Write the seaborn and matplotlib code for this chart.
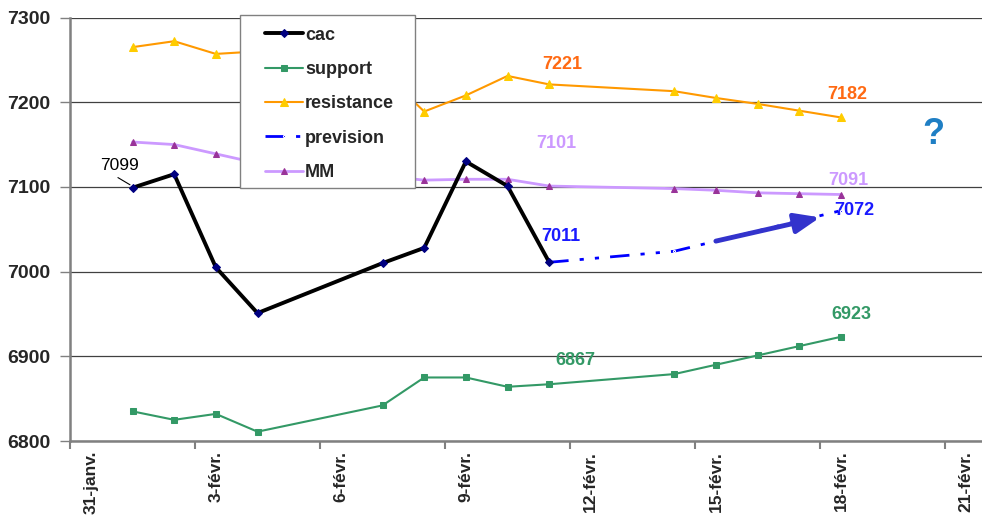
import numpy as np
import pandas as pd
import matplotlib
matplotlib.use('Agg')
import matplotlib.pyplot as plt
import matplotlib.patches as mpatches
import seaborn as sns

# day offsets from 31 janv. (points sit in the middle of each day slot)
days = [1, 2, 3, 4, 7, 8, 9, 10, 11, 14, 15, 16, 17, 18]
cac = [7099, 7115, 7005, 6951, 7010, 7028, 7130, 7101, 7011]
support = [6835, 6825, 6832, 6811, 6842, 6875, 6875, 6864, 6867, 6879, 6890, 6901, 6912, 6923]
resistance = [7265, 7272, 7257, 7260, 7236, 7189, 7208, 7231, 7221, 7213, 7205, 7198, 7190, 7182]
mm = [7153, 7150, 7139, 7128, 7113, 7108, 7109, 7109, 7101, 7098, 7096, 7093, 7092, 7091]
prev_days = [11, 14, 18]
prevision = [7011, 7024, 7072]

tick_days = [0, 3, 6, 9, 12, 15, 18, 21]
tick_labels = ['31-janv.', '3-févr.', '6-févr.', '9-févr.', '12-févr.', '15-févr.', '18-févr.', '21-févr.']

sns.set_style('white')
plt.rcParams['font.family'] = ['Liberation Sans', 'DejaVu Sans']

fig = plt.figure(figsize=(9.82, 5.20), dpi=100)
ax = fig.add_axes([70 / 982, 79 / 520, 1 - 70 / 982, (441 - 17.5) / 520])

x = np.array(days) + 0.5
sns.lineplot(x=x[:len(cac)], y=cac, ax=ax, color='black', lw=2.8, marker='D', ms=4.5,
             mfc='#000080', mec='#000080', label='cac', zorder=5)
sns.lineplot(x=x, y=support, ax=ax, color='#339966', lw=1.5, marker='s', ms=4,
             mfc='#339966', mec='#339966', label='support', zorder=4)
sns.lineplot(x=x, y=resistance, ax=ax, color='#ff9900', lw=1.5, marker='^', ms=6,
             mfc='#ffcc00', mec='#ffcc00', label='resistance', zorder=4)
sns.lineplot(x=np.array(prev_days) + 0.5, y=prevision, ax=ax, color='#0000ff', lw=2,
             linestyle=(0, (7, 4, 1.5, 4, 1.5, 4)), marker='.', ms=3,
             label='prevision', zorder=4)
sns.lineplot(x=x, y=mm, ax=ax, color='#cc99ff', lw=2, marker='^', ms=4,
             mfc='#993399', mec='#993399', label='MM', zorder=4)

ax.annotate('', xy=(18.0, 7064), xytext=(15.5, 7036),
            arrowprops=dict(arrowstyle='-|>,head_length=1.5,head_width=0.6',
                            color='#3333cc', lw=3.5, shrinkA=0, shrinkB=0), zorder=6)

lab = dict(ha='center', va='center', fontsize=13, fontweight='bold')
ax.text(11.81, 7244, '7221', color='#ff6a13', **lab)
ax.text(18.65, 7209, '7182', color='#ff6a13', **lab)
ax.text(11.66, 7151, '7101', color='#cc99ff', **lab)
ax.text(18.67, 7107, '7091', color='#cc99ff', **lab)
ax.text(18.81, 7072, '7072', color='#1a1aff', **lab)
ax.text(11.78, 7042, '7011', color='#1a1aff', **lab)
ax.text(12.14, 6895, '6867', color='#339966', **lab)
ax.text(18.74, 6949, '6923', color='#339966', **lab)
ax.text(20.73, 7162, '?', color='#1f7fc4', ha='center', va='center', fontsize=26, fontweight='bold')
ax.text(1.19, 7125, '7099', color='black', ha='center', va='center', fontsize=12.5)
ax.plot([1.15, 1.44], [7111, 7102.5], color='black', lw=0.8, zorder=6)

ax.set_xlim(0, (982 - 70) / 41.67)
ax.set_ylim(6800, 7300)
ax.set_yticks([6800, 6900, 7000, 7100, 7200, 7300])
ax.tick_params(axis='y', which='major', length=7, width=1, color='#808080', pad=7,
               labelsize=14, left=True)
for t in ax.get_yticklabels():
    t.set_fontweight('bold')
ax.set_xticks(tick_days)
ax.set_xticklabels([])
ax.set_xticks(np.array(tick_days) + 0.5, minor=True)
ax.set_xticklabels(tick_labels, minor=True, rotation=90, fontsize=12.5, fontweight='bold')
ax.tick_params(axis='x', which='major', length=6, width=1.5, color='#808080', bottom=True)
ax.tick_params(axis='x', which='minor', length=0, pad=7)
ax.grid(axis='y', color='#404040', lw=0.9)
ax.grid(axis='x', visible=False)
for s in ['top', 'right']:
    ax.spines[s].set_visible(False)
for s in ['left', 'bottom']:
    ax.spines[s].set_color('#808080')
    ax.spines[s].set_linewidth(1.8)

# legend box drawn separately so the entries can sit with a wider left margin
box = mpatches.Rectangle((240 / 982, 1 - 188 / 520), 175 / 982, 173 / 520,
                         transform=fig.transFigure, facecolor='white', edgecolor='#808080',
                         lw=1, zorder=9, clip_on=False)
ax.add_patch(box)
leg = ax.legend(loc='upper left', bbox_to_anchor=(251.5 / 982, 1 - 13 / 520),
                bbox_transform=fig.transFigure, borderaxespad=0, frameon=False,
                numpoints=1, handlelength=2.1, handletextpad=0.12, labelspacing=0.96,
                borderpad=0.75, prop={'weight': 'bold', 'size': 13})
leg.set_zorder(10)

fig.savefig('out.png', dpi=100)
